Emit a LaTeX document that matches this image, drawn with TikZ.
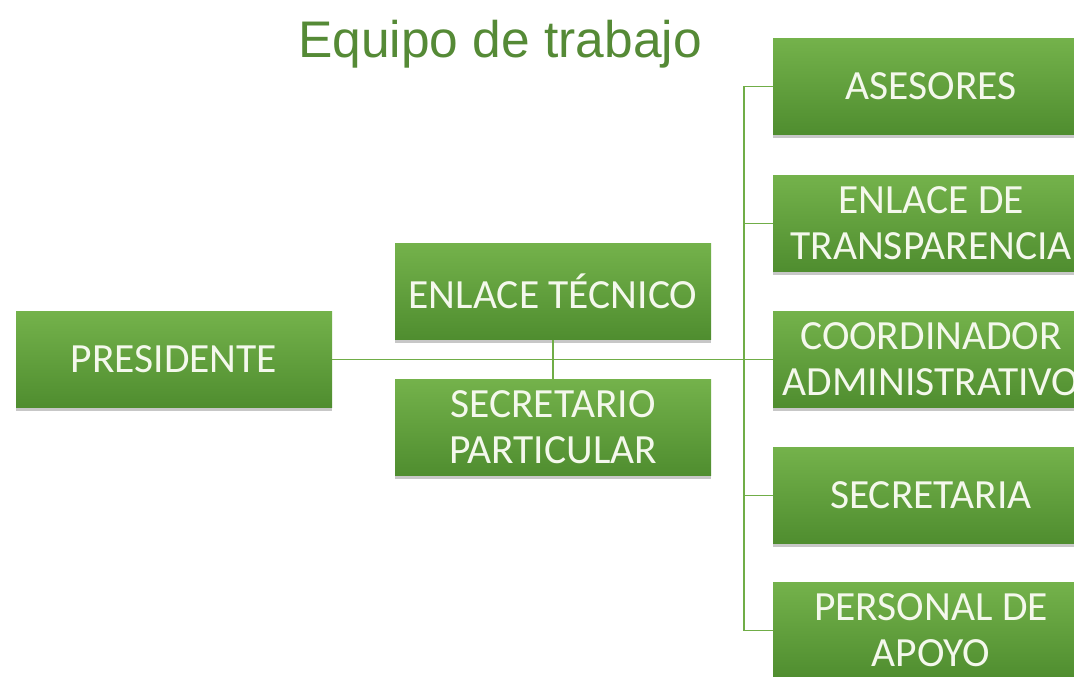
\documentclass[tikz,border=0pt]{standalone}
\usepackage{fontspec}
\setmainfont{Carlito}
\newfontfamily\titlefont{Liberation Sans}
\usetikzlibrary{shadows}
\definecolor{boxtop}{HTML}{74B24B}
\definecolor{boxbot}{HTML}{4F8D2F}
\definecolor{linegreen}{HTML}{70AD47}
\definecolor{titlegreen}{HTML}{558A36}
\definecolor{txt}{HTML}{F4F8EC}
\tikzset{
  orgbox/.style={rectangle, minimum width=316pt, minimum height=96pt, inner sep=0pt,
    top color=boxtop, bottom color=boxbot, draw=none, text=txt, align=center,
    font=\fontsize{41.5}{46}\selectfont,
    drop shadow={shadow xshift=0pt, shadow yshift=-3pt, opacity=0.22, fill=black}},
  conn/.style={draw=linegreen, line width=1.4pt},
  titlestyle/.style={text=titlegreen, font=\titlefont\fontsize{51.5}{60}\selectfont, anchor=base}
}
\begin{document}
\begin{tikzpicture}[x=1pt,y=-1pt]
\useasboundingbox (0,0) rectangle (1074,677);
\fill[white] (0,0) rectangle (1074,677);
\node[titlestyle] (title) at (500,58) {Equipo de trabajo};

\node[orgbox] (pres) at (174,359.5) {PRESIDENTE};
\node[orgbox] (tec) at (553,291.5) {ENLACE TÉCNICO};
\node[orgbox] (sec) at (553,427.5) {SECRETARIO\\PARTICULAR};

\node[orgbox] (ases) at (931,86.5) {ASESORES};
\node[orgbox] (trans) at (931,223.5) {ENLACE DE\\TRANSPARENCIA};
\node[orgbox] (coor) at (931,359.5) {COORDINADOR\\ADMINISTRATIVO};
\node[orgbox] (secr) at (931,495.5) {SECRETARIA};
\node[orgbox] (pers) at (931,630.5) {PERSONAL DE\\APOYO};

\coordinate (bus) at (744,359.5);

\draw[conn] (pres.east) -- (coor.west);
\draw[conn] (tec.south) -- (sec.north);
\draw[conn] (ases.west) -- (ases.west -| bus) -- (pers.west -| bus) -- (pers.west);
\draw[conn] (trans.west) -- (trans.west -| bus);
\draw[conn] (secr.west) -- (secr.west -| bus);
\end{tikzpicture}
\end{document}
